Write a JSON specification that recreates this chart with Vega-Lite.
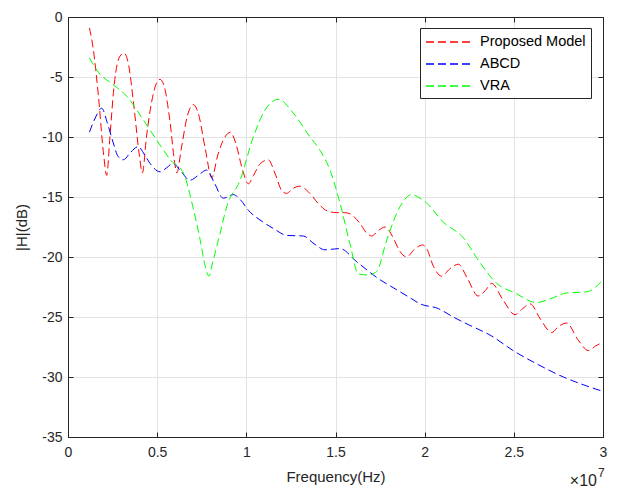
{
  "$schema": "https://vega.github.io/schema/vega-lite/v6.json",
  "width": 535,
  "height": 420,
  "autosize": {"type": "none"},
  "padding": {"left": 68, "top": 17, "right": 17, "bottom": 51},
  "background": "white",
  "config": {
    "font": "Liberation Sans",
    "view": {"stroke": "#262626", "strokeWidth": 1},
    "axis": {
      "domainColor": "#262626", "tickColor": "#262626", "labelColor": "#262626", "titleColor": "#262626",
      "gridColor": "#e3e3e3", "labelFontSize": 14, "titleFontSize": 15, "titleFontWeight": "normal",
      "labelFont": "Liberation Sans", "titleFont": "Liberation Sans", "labelFlush": false, "labelOverlap": false
    }
  },
  "datasets": {
    "curves": [
      {"series": "Proposed Model", "f": 1.2e6, "H": -0.9},
      {"series": "Proposed Model", "f": 1.4e6, "H": -2.5},
      {"series": "Proposed Model", "f": 1.7e6, "H": -6.5},
      {"series": "Proposed Model", "f": 2.0e6, "H": -11.5},
      {"series": "Proposed Model", "f": 2.17e6, "H": -13.2},
      {"series": "Proposed Model", "f": 2.35e6, "H": -10},
      {"series": "Proposed Model", "f": 2.6e6, "H": -5.5},
      {"series": "Proposed Model", "f": 2.9e6, "H": -3.3},
      {"series": "Proposed Model", "f": 3.14e6, "H": -3.0},
      {"series": "Proposed Model", "f": 3.4e6, "H": -4.0},
      {"series": "Proposed Model", "f": 3.7e6, "H": -7.5},
      {"series": "Proposed Model", "f": 4.0e6, "H": -11.5},
      {"series": "Proposed Model", "f": 4.17e6, "H": -13.0},
      {"series": "Proposed Model", "f": 4.4e6, "H": -10},
      {"series": "Proposed Model", "f": 4.7e6, "H": -7},
      {"series": "Proposed Model", "f": 5.0e6, "H": -5.4},
      {"series": "Proposed Model", "f": 5.16e6, "H": -5.2},
      {"series": "Proposed Model", "f": 5.4e6, "H": -5.8},
      {"series": "Proposed Model", "f": 5.7e6, "H": -8.5},
      {"series": "Proposed Model", "f": 6.0e6, "H": -12.3},
      {"series": "Proposed Model", "f": 6.1e6, "H": -13.0},
      {"series": "Proposed Model", "f": 6.35e6, "H": -11},
      {"series": "Proposed Model", "f": 6.7e6, "H": -8.2},
      {"series": "Proposed Model", "f": 7.03e6, "H": -7.3},
      {"series": "Proposed Model", "f": 7.3e6, "H": -8},
      {"series": "Proposed Model", "f": 7.7e6, "H": -11},
      {"series": "Proposed Model", "f": 8.06e6, "H": -13.4},
      {"series": "Proposed Model", "f": 8.4e6, "H": -11.5},
      {"series": "Proposed Model", "f": 8.8e6, "H": -10},
      {"series": "Proposed Model", "f": 9.12e6, "H": -9.6},
      {"series": "Proposed Model", "f": 9.4e6, "H": -10.5},
      {"series": "Proposed Model", "f": 9.8e6, "H": -12.8},
      {"series": "Proposed Model", "f": 1.011e7, "H": -13.9},
      {"series": "Proposed Model", "f": 1.04e7, "H": -13.2},
      {"series": "Proposed Model", "f": 1.08e7, "H": -12.2},
      {"series": "Proposed Model", "f": 1.123e7, "H": -11.9},
      {"series": "Proposed Model", "f": 1.16e7, "H": -13},
      {"series": "Proposed Model", "f": 1.2e7, "H": -14.5},
      {"series": "Proposed Model", "f": 1.226e7, "H": -14.7},
      {"series": "Proposed Model", "f": 1.26e7, "H": -14.3},
      {"series": "Proposed Model", "f": 1.3e7, "H": -14.1},
      {"series": "Proposed Model", "f": 1.35e7, "H": -14.6},
      {"series": "Proposed Model", "f": 1.413e7, "H": -15.7},
      {"series": "Proposed Model", "f": 1.46e7, "H": -16.2},
      {"series": "Proposed Model", "f": 1.507e7, "H": -16.3},
      {"series": "Proposed Model", "f": 1.55e7, "H": -16.3},
      {"series": "Proposed Model", "f": 1.581e7, "H": -16.4},
      {"series": "Proposed Model", "f": 1.637e7, "H": -17.2},
      {"series": "Proposed Model", "f": 1.675e7, "H": -18.0},
      {"series": "Proposed Model", "f": 1.703e7, "H": -18.25},
      {"series": "Proposed Model", "f": 1.74e7, "H": -17.8},
      {"series": "Proposed Model", "f": 1.778e7, "H": -17.5},
      {"series": "Proposed Model", "f": 1.82e7, "H": -18.3},
      {"series": "Proposed Model", "f": 1.86e7, "H": -19.5},
      {"series": "Proposed Model", "f": 1.899e7, "H": -20.0},
      {"series": "Proposed Model", "f": 1.94e7, "H": -19.4},
      {"series": "Proposed Model", "f": 1.989e7, "H": -19.0},
      {"series": "Proposed Model", "f": 2.011e7, "H": -19.3},
      {"series": "Proposed Model", "f": 2.05e7, "H": -20.8},
      {"series": "Proposed Model", "f": 2.095e7, "H": -21.6},
      {"series": "Proposed Model", "f": 2.14e7, "H": -21.0},
      {"series": "Proposed Model", "f": 2.189e7, "H": -20.6},
      {"series": "Proposed Model", "f": 2.24e7, "H": -21.8},
      {"series": "Proposed Model", "f": 2.3e7, "H": -23.25},
      {"series": "Proposed Model", "f": 2.34e7, "H": -22.8},
      {"series": "Proposed Model", "f": 2.376e7, "H": -22.2},
      {"series": "Proposed Model", "f": 2.44e7, "H": -23.6},
      {"series": "Proposed Model", "f": 2.507e7, "H": -24.8},
      {"series": "Proposed Model", "f": 2.55e7, "H": -24.3},
      {"series": "Proposed Model", "f": 2.591e7, "H": -23.9},
      {"series": "Proposed Model", "f": 2.65e7, "H": -25.2},
      {"series": "Proposed Model", "f": 2.712e7, "H": -26.3},
      {"series": "Proposed Model", "f": 2.75e7, "H": -25.8},
      {"series": "Proposed Model", "f": 2.796e7, "H": -25.5},
      {"series": "Proposed Model", "f": 2.86e7, "H": -26.9},
      {"series": "Proposed Model", "f": 2.918e7, "H": -27.8},
      {"series": "Proposed Model", "f": 2.96e7, "H": -27.4},
      {"series": "Proposed Model", "f": 3.0e7, "H": -27.1},
      {"series": "ABCD", "f": 1.2e6, "H": -9.6},
      {"series": "ABCD", "f": 1.5e6, "H": -8.5},
      {"series": "ABCD", "f": 1.89e6, "H": -7.6},
      {"series": "ABCD", "f": 2.2e6, "H": -8.8},
      {"series": "ABCD", "f": 2.54e6, "H": -10.5},
      {"series": "ABCD", "f": 2.8e6, "H": -11.6},
      {"series": "ABCD", "f": 3.1e6, "H": -11.9},
      {"series": "ABCD", "f": 3.5e6, "H": -11.3},
      {"series": "ABCD", "f": 3.94e6, "H": -10.8},
      {"series": "ABCD", "f": 4.3e6, "H": -11.5},
      {"series": "ABCD", "f": 4.6e6, "H": -12.2},
      {"series": "ABCD", "f": 5.16e6, "H": -12.9},
      {"series": "ABCD", "f": 5.5e6, "H": -12.6},
      {"series": "ABCD", "f": 5.9e6, "H": -12.2},
      {"series": "ABCD", "f": 6.3e6, "H": -12.8},
      {"series": "ABCD", "f": 6.84e6, "H": -13.6},
      {"series": "ABCD", "f": 7.3e6, "H": -13.2},
      {"series": "ABCD", "f": 7.78e6, "H": -12.75},
      {"series": "ABCD", "f": 8.2e6, "H": -13.8},
      {"series": "ABCD", "f": 8.71e6, "H": -15.1},
      {"series": "ABCD", "f": 9.27e6, "H": -14.8},
      {"series": "ABCD", "f": 9.65e6, "H": -15.2},
      {"series": "ABCD", "f": 1.011e7, "H": -16.1},
      {"series": "ABCD", "f": 1.095e7, "H": -17.1},
      {"series": "ABCD", "f": 1.16e7, "H": -17.7},
      {"series": "ABCD", "f": 1.226e7, "H": -18.2},
      {"series": "ABCD", "f": 1.32e7, "H": -18.25},
      {"series": "ABCD", "f": 1.38e7, "H": -18.9},
      {"series": "ABCD", "f": 1.441e7, "H": -19.4},
      {"series": "ABCD", "f": 1.525e7, "H": -19.3},
      {"series": "ABCD", "f": 1.619e7, "H": -20.4},
      {"series": "ABCD", "f": 1.75e7, "H": -21.9},
      {"series": "ABCD", "f": 1.84e7, "H": -22.7},
      {"series": "ABCD", "f": 1.918e7, "H": -23.4},
      {"series": "ABCD", "f": 1.974e7, "H": -23.9},
      {"series": "ABCD", "f": 2.077e7, "H": -24.3},
      {"series": "ABCD", "f": 2.16e7, "H": -25.0},
      {"series": "ABCD", "f": 2.254e7, "H": -25.7},
      {"series": "ABCD", "f": 2.366e7, "H": -26.5},
      {"series": "ABCD", "f": 2.507e7, "H": -27.9},
      {"series": "ABCD", "f": 2.628e7, "H": -28.9},
      {"series": "ABCD", "f": 2.778e7, "H": -30.0},
      {"series": "ABCD", "f": 2.909e7, "H": -30.75},
      {"series": "ABCD", "f": 3.0e7, "H": -31.2},
      {"series": "VRA", "f": 1.2e6, "H": -3.4},
      {"series": "VRA", "f": 1.7e6, "H": -4.6},
      {"series": "VRA", "f": 2.5e6, "H": -5.6},
      {"series": "VRA", "f": 3.29e6, "H": -6.6},
      {"series": "VRA", "f": 4.1e6, "H": -8.3},
      {"series": "VRA", "f": 4.97e6, "H": -10.25},
      {"series": "VRA", "f": 5.8e6, "H": -12.0},
      {"series": "VRA", "f": 6.47e6, "H": -13.0},
      {"series": "VRA", "f": 7.0e6, "H": -15.8},
      {"series": "VRA", "f": 7.4e6, "H": -18.5},
      {"series": "VRA", "f": 7.7e6, "H": -20.8},
      {"series": "VRA", "f": 7.9e6, "H": -21.6},
      {"series": "VRA", "f": 8.1e6, "H": -20.5},
      {"series": "VRA", "f": 8.5e6, "H": -18.2},
      {"series": "VRA", "f": 8.9e6, "H": -15.8},
      {"series": "VRA", "f": 9.65e6, "H": -13.6},
      {"series": "VRA", "f": 1.039e7, "H": -10.0},
      {"series": "VRA", "f": 1.105e7, "H": -7.75},
      {"series": "VRA", "f": 1.18e7, "H": -6.86},
      {"series": "VRA", "f": 1.263e7, "H": -8.0},
      {"series": "VRA", "f": 1.357e7, "H": -10.0},
      {"series": "VRA", "f": 1.413e7, "H": -11.1},
      {"series": "VRA", "f": 1.469e7, "H": -12.75},
      {"series": "VRA", "f": 1.525e7, "H": -15.5},
      {"series": "VRA", "f": 1.581e7, "H": -18.9},
      {"series": "VRA", "f": 1.628e7, "H": -21.4},
      {"series": "VRA", "f": 1.684e7, "H": -21.5},
      {"series": "VRA", "f": 1.731e7, "H": -21.2},
      {"series": "VRA", "f": 1.787e7, "H": -18.6},
      {"series": "VRA", "f": 1.862e7, "H": -15.8},
      {"series": "VRA", "f": 1.927e7, "H": -14.8},
      {"series": "VRA", "f": 1.974e7, "H": -15.1},
      {"series": "VRA", "f": 2.011e7, "H": -15.5},
      {"series": "VRA", "f": 2.105e7, "H": -17.1},
      {"series": "VRA", "f": 2.217e7, "H": -18.4},
      {"series": "VRA", "f": 2.3e7, "H": -20.25},
      {"series": "VRA", "f": 2.404e7, "H": -22.2},
      {"series": "VRA", "f": 2.507e7, "H": -23.0},
      {"series": "VRA", "f": 2.628e7, "H": -23.8},
      {"series": "VRA", "f": 2.684e7, "H": -23.6},
      {"series": "VRA", "f": 2.796e7, "H": -23.0},
      {"series": "VRA", "f": 2.909e7, "H": -22.9},
      {"series": "VRA", "f": 3.0e7, "H": -21.9}
    ],
    "exponent": [{"f": 3.0e7, "H": -35, "base": "×10", "power": "7"}]
  },
  "layer": [
    {
      "data": {"name": "curves"},
      "mark": {"type": "line", "interpolate": "monotone", "strokeWidth": 1, "strokeDash": [8, 4]},
      "encoding": {
        "x": {
          "field": "f", "type": "quantitative",
          "scale": {"domain": [0, 30000000], "nice": false, "zero": false},
          "axis": {
            "values": [0, 5000000, 10000000, 15000000, 20000000, 25000000, 30000000],
            "labelExpr": "format(datum.value/1e7, '~g')",
            "title": "Frequency(Hz)", "tickSize": -5, "labelPadding": 13, "titlePadding": 10, "grid": true
          }
        },
        "y": {
          "field": "H", "type": "quantitative",
          "scale": {"domain": [-35, 0], "nice": false, "zero": false},
          "axis": {
            "values": [-35, -30, -25, -20, -15, -10, -5, 0],
            "labelExpr": "toString(datum.value)",
            "title": "|H|(dB)", "tickSize": -5, "labelPadding": 11, "titlePadding": 12, "grid": true
          }
        },
        "color": {
          "field": "series", "type": "nominal",
          "scale": {"domain": ["Proposed Model", "ABCD", "VRA"], "range": ["#ff0000", "#0000ff", "#00ff00"]},
          "legend": {
            "orient": "none", "legendX": 352, "legendY": 11, "title": null,
            "symbolType": "M-1,0H5", "symbolSize": 256, "symbolDash": [8, 4], "symbolStrokeWidth": 1.5,
            "labelFontSize": 14.5, "labelFont": "Liberation Sans", "labelColor": "#000000",
            "strokeColor": "#262626", "fillColor": "white", "padding": 5, "rowPadding": 6, "labelOffset": 37,
            "encode": {"symbols": {"update": {"stroke": {"scale": "color", "field": "value"}, "fill": {"value": "transparent"}}}}
          }
        }
      }
    },
    {
      "data": {"name": "curves"},
      "mark": {"type": "point", "opacity": 0},
      "encoding": {
        "x": {"field": "f", "type": "quantitative",
          "axis": {"orient": "top", "labels": false, "title": null, "tickSize": -5, "grid": false,
            "values": [0, 5000000, 10000000, 15000000, 20000000, 25000000, 30000000]}},
        "y": {"field": "H", "type": "quantitative",
          "axis": {"orient": "right", "labels": false, "title": null, "tickSize": -5, "grid": false,
            "values": [-35, -30, -25, -20, -15, -10, -5, 0]}}
      }
    },
    {
      "data": {"name": "exponent"},
      "mark": {"type": "text", "align": "right", "baseline": "middle", "dx": -6, "dy": 44, "fontSize": 16, "font": "Liberation Sans", "color": "#262626"},
      "encoding": {
        "x": {"field": "f", "type": "quantitative", "axis": null},
        "y": {"field": "H", "type": "quantitative", "axis": null},
        "text": {"field": "base"}
      }
    },
    {
      "data": {"name": "exponent"},
      "mark": {"type": "text", "align": "left", "baseline": "middle", "dx": -5, "dy": 36, "fontSize": 12, "font": "Liberation Sans", "color": "#262626"},
      "encoding": {
        "x": {"field": "f", "type": "quantitative", "axis": null},
        "y": {"field": "H", "type": "quantitative", "axis": null},
        "text": {"field": "power"}
      }
    }
  ],
  "resolve": {"axis": {"x": "independent", "y": "independent"}}
}
